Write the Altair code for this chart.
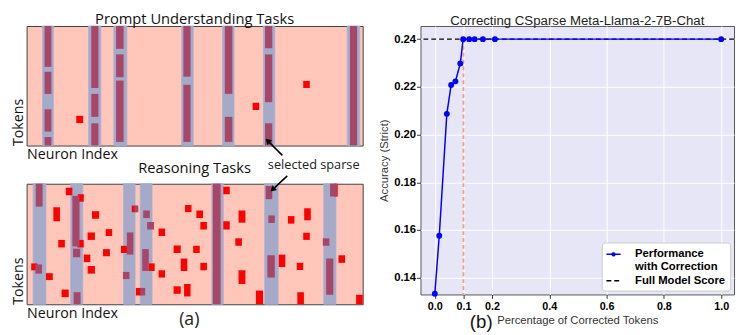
import math
import altair as alt
import pandas as pd

LFONT = "Open Sans"
RFONT = "Liberation Sans"

SALMON = "#FFC6B9"
GRAY = "#A4AAC8"
DARK = "#A6476A"
RED = "#FF0000"

# ---------------- (a) illustration data (neuron index x token index) ----------------
N_NEURONS = 343
TOP_TOKENS = 122
BOT_TOKENS = 123

TOP_COLS = [(16.3, 27.3), (63.3, 75.7), (89, 102.3), (158.3, 170), (200, 211.7), (241.7, 253.3), (327.3, 340)]
TOP_DARK = [
    (18.3, 25.3, 0, 41.7), (18.3, 25.3, 46.7, 69.3), (18.3, 25.3, 85, 107.7), (18.3, 25.3, 113.3, 122),
    (66, 73.3, 0, 63.3), (66, 73.3, 69.3, 92.7), (66, 73.3, 99.3, 122),
    (91.3, 99, 0, 23.3), (91.3, 99, 29, 52.3), (91.3, 99, 55.7, 118.3),
    (160, 167.3, 0, 51.7), (160, 167.3, 60, 118.3),
    (202.3, 210, 0, 69.3), (202.3, 210, 92.7, 118.3),
    (243.3, 250.7, 0, 22.7), (243.3, 250.7, 29, 77.7), (243.3, 250.7, 99.3, 122),
    (330, 337.3, 0, 122),
]
TOP_RED = [(50.7, 57.7, 91.7, 99), (230.7, 237.3, 78.3, 85.7), (282.3, 289, 56, 63.3)]

BOT_COLS = [(6.7, 19.7), (45, 57.3), (99, 110.7), (116, 128), (189, 200.7), (243, 256.7), (303.3, 315.7)]
BOT_DARK = [
    (9.3, 16.3, 0, 23.3), (9, 15.7, 82.3, 91.7),
    (46.7, 54, 12.3, 64), (47.3, 54.7, 66.3, 75), (48, 55, 110.7, 123),
    (102.3, 109, 49.7, 72.3), (98.3, 105, 90, 97.3), (110, 114, 22.3, 29),
    (119, 125.7, 27.3, 35), (123, 130, 39, 46.7), (118, 124.7, 66.7, 89), (116, 121, 106.3, 114),
    (190, 198, 0, 123),
    (244, 250.7, 2.3, 15.7), (246.7, 253.3, 32.3, 40), (245.7, 253.3, 73, 95.7),
    (309.7, 316.7, 0, 13), (302.3, 309, 55.7, 63.3), (305.7, 313, 76.3, 113.3),
]
BOT_RED = [
    (40, 46.7, 4, 11.7), (52.3, 58.3, 10.7, 18.3), (27.3, 34, 24, 38.3), (66.7, 74, 28, 35.7),
    (32.3, 39, 57.3, 65), (51.7, 58.3, 57.3, 65), (62.3, 69.7, 49.7, 57.3), (80.7, 87.3, 46.3, 53.3),
    (58.3, 65, 72.3, 80), (78, 85, 66.7, 74), (62.3, 69.7, 84, 91.7), (19.7, 26.7, 91.3, 98.3),
    (35.7, 43, 108, 115.7), (4.7, 11, 81.3, 88.3), (96.3, 103, 63.3, 70.7), (107.3, 113, 22.3, 29),
    (134.7, 141.3, 45.7, 53.3), (124.7, 130.7, 81.3, 89), (134.7, 141.3, 88.3, 95.7), (111.5, 117, 106.3, 114),
    (150, 157.3, 63, 70.7), (161.7, 168.3, 21.7, 29), (173.3, 180, 27.3, 35), (177.3, 184, 39, 46.7),
    (170, 176.7, 63.3, 70.7), (157.3, 164, 76.3, 89), (177.3, 184, 80.7, 88.3), (150, 157.3, 104.7, 112.3),
    (160.7, 167.3, 102.3, 115), (200.7, 207.3, 3, 10.7), (200.7, 207.3, 38.3, 46.7), (216.3, 223.3, 27.3, 39.7),
    (213, 219.7, 55.7, 63.3), (216.3, 223.3, 88.3, 102.3), (234, 241.3, 109, 123), (257.3, 264, 72.3, 85),
    (266.7, 273.3, 33, 40.7), (275.7, 282.3, 80.7, 88), (283.3, 290, 25, 37.3), (282.3, 289, 50, 57.3),
    (276.3, 283, 110.7, 123), (318.3, 325, 73, 80.7), (336.3, 343, 113.3, 123), (314, 317.5, 0, 13),
]

# annotations: (neuron, token, text, font size)
TOP_TEXT = [(293, 142, "selected sparse", 13)]
BOT_TEXT = [(166, 139.5, "(a)", 18)]
# arrows: tail (x, y) -> head (x, y)
TOP_ARROWS = [(261, 132, 246, 117)]
BOT_ARROWS = [(266, -8, 251, 6)]

# ---------------- (b) line chart data ----------------
PCT = [0.0, 0.0155, 0.042, 0.057, 0.072, 0.089, 0.099, 0.120, 0.139, 0.168, 0.210, 1.0]
ACC = [0.1333, 0.1576, 0.2087, 0.2208, 0.2223, 0.2298, 0.2400, 0.2400, 0.2400, 0.2400, 0.2400, 0.2400]
FULL_SCORE = 0.24
CUTOFF = 0.1
SERIES = ["Performance with Correction", "Full Model Score"]
X_TICKS = [0.0, 0.1, 0.2, 0.4, 0.6, 0.8, 1.0]
Y_TICKS = [0.14, 0.16, 0.18, 0.20, 0.22, 0.24]
X_DOM = [-0.05, 1.045]
Y_DOM = [0.133, 0.2455]


def rect_df(rows):
    return pd.DataFrame(rows, columns=["x0", "x1", "y0", "y1"])


def panel(cols, darks, reds, H, title, texts, arrows):
    X = alt.X("x0:Q", scale=alt.Scale(domain=[0, N_NEURONS], nice=False, zero=False),
              axis=alt.Axis(title="Neuron Index", labels=False, ticks=False, domain=False, grid=False,
                            titleAnchor="start", titleFont=LFONT, titleFontSize=14.5,
                            titleFontWeight="normal", titleColor="#111", titlePadding=2))
    Y = alt.Y("y0:Q", scale=alt.Scale(domain=[0, H], reverse=True, nice=False, zero=False),
              axis=alt.Axis(title="Tokens", labels=False, ticks=False, domain=False, grid=False,
                            titleAnchor="end", titleAlign="left", titleFont=LFONT, titleFontSize=14.5,
                            titleFontWeight="normal", titleColor="#111", titlePadding=1, minExtent=0))
    col_df = rect_df([(a, b, 0, H) for a, b in cols])
    layers = [
        alt.Chart(col_df).mark_rect(fill=GRAY, stroke="#9DB4D6", strokeWidth=0.8).encode(x=X, x2="x1", y=Y, y2="y1"),
        alt.Chart(rect_df(reds)).mark_rect(fill=RED).encode(x=X, x2="x1", y=Y, y2="y1"),
        alt.Chart(rect_df(darks)).mark_rect(fill=DARK).encode(x=X, x2="x1", y=Y, y2="y1"),
    ]
    if arrows:
        adf = pd.DataFrame(arrows, columns=["x0", "y0", "x1", "y1"])
        heads = []
        for tx, ty, hx, hy in arrows:
            ang = math.degrees(math.atan2(hx - tx, -(hy - ty))) % 360
            heads.append((hx, hy, ang))
        hdf = pd.DataFrame(heads, columns=["x0", "y0", "ang"])
        layers.append(alt.Chart(adf).mark_rule(color="black", strokeWidth=1.6).encode(x=X, y=Y, x2="x1", y2="y1"))
        layers.append(alt.Chart(hdf).mark_point(shape="triangle-up", filled=True, color="black", size=45, opacity=1)
                      .encode(x=X, y=Y, angle=alt.Angle("ang:Q", scale=None)))
    if texts:
        tdf = pd.DataFrame(texts, columns=["x0", "y0", "label", "fs"])
        layers.append(alt.Chart(tdf).mark_text(font=LFONT, align="center", baseline="middle", color="#222")
                      .encode(x=X, y=Y, text="label:N", size=alt.Size("fs:Q", scale=None)))
    return alt.layer(*layers).properties(
        width=N_NEURONS, height=H,
        title=alt.TitleParams(title, font=LFONT, fontSize=15, fontWeight="normal", color="#111", offset=-1, anchor="middle"),
        view=alt.ViewBackground(fill=SALMON, stroke="#404040", strokeWidth=1),
    )


top = panel(TOP_COLS, TOP_DARK, TOP_RED, TOP_TOKENS, "Prompt Understanding Tasks", TOP_TEXT, TOP_ARROWS)
bot = panel(BOT_COLS, BOT_DARK, BOT_RED, BOT_TOKENS, "Reasoning Tasks", BOT_TEXT, BOT_ARROWS)

# ---------------- (b) ----------------
RX = alt.X("x:Q", scale=alt.Scale(domain=X_DOM, nice=False, zero=False),
           axis=alt.Axis(values=X_TICKS, format=".1f", title="Percentage of Corrected Tokens",
                         labelFont=RFONT, labelFontSize=11, labelFontWeight="bold", labelColor="black",
                         labelPadding=2, tickSize=4, tickColor="#333", domain=False,
                         grid=True, gridColor="white", gridWidth=1,
                         titleFont=RFONT, titleFontSize=11.5, titleFontWeight="normal", titleColor="#333",
                         titlePadding=4))
RY = alt.Y("y:Q", scale=alt.Scale(domain=Y_DOM, nice=False, zero=False),
           axis=alt.Axis(values=Y_TICKS, format=".2f", title="Accuracy (Strict)",
                         labelFont=RFONT, labelFontSize=11.5, labelFontWeight="bold", labelColor="black",
                         labelPadding=1, tickSize=4, tickColor="#333", domain=False,
                         grid=True, gridColor="white", gridWidth=1,
                         titleFont=RFONT, titleFontSize=11.5, titleFontWeight="normal", titleColor="#333",
                         titlePadding=4))

LEG = alt.Legend(
    title=None, orient="bottom-right", offset=4, fillColor="white", strokeColor="#cccccc",
    cornerRadius=3, padding=4, labelFont=RFONT, labelFontSize=11.5, labelFontWeight="bold",
    labelColor="black", symbolSize=210, symbolStrokeWidth=1.5, labelOffset=14, rowPadding=0,
    symbolType={"expr": "datum.value == 'Full Model Score' ? 'stroke' : "
                        "'M-1,0H1M-0.2,0A0.2,0.2 0 1,0 0.2,0A0.2,0.2 0 1,0 -0.2,0"
                        "M-0.07,0A0.07,0.07 0 1,0 0.07,0A0.07,0.07 0 1,0 -0.07,0'"},
    labelExpr="datum.label == 'Performance with Correction' ? ['Performance', 'with Correction'] : datum.label",
)
COLOR = alt.Color("series:N", scale=alt.Scale(domain=SERIES, range=["#0000FF", "#000000"]), legend=LEG)
DASH = alt.StrokeDash("series:N", scale=alt.Scale(domain=SERIES, range=[[1, 0], [5, 3]]), legend=LEG)

perf = pd.DataFrame({"x": PCT, "y": ACC, "series": SERIES[0]})
full = pd.DataFrame({"y": [FULL_SCORE], "series": [SERIES[1]]})
cut = pd.DataFrame({"x": [CUTOFF], "y": [FULL_SCORE], "y2": [Y_DOM[0]]})
blabel = pd.DataFrame({"x": [0.162], "y": [0.1215], "t": ["(b)"]})

vline = alt.Chart(cut).mark_rule(color="#F39B83", strokeDash=[4, 3], strokeWidth=1.8).encode(x=RX, y=RY, y2="y2")
hline = alt.Chart(full).mark_rule(strokeWidth=1.3).encode(y=RY, color=COLOR, strokeDash=DASH)
line = alt.Chart(perf).mark_line(strokeWidth=1.5).encode(x=RX, y=RY, color=COLOR, strokeDash=DASH)
pts = alt.Chart(perf).mark_circle(size=36, color="#0000FF", opacity=1).encode(x=RX, y=RY)
btxt = alt.Chart(blabel).mark_text(font=RFONT, fontSize=19, align="center", baseline="middle", color="#111").encode(
    x=RX, y=RY, text="t:N")

right = alt.layer(vline, hline, line, pts, btxt).properties(
    width=320, height=274,
    title=alt.TitleParams("Correcting CSparse Meta-Llama-2-7B-Chat", font=RFONT, fontSize=13.5,
                          fontWeight="normal", color="#222", offset=-1),
    view=alt.ViewBackground(fill="#E6E6F6", stroke="#555555", strokeWidth=1),
)

left = alt.vconcat(top, bot, spacing=39).properties(bounds="flush")
chart = alt.hconcat(left, right, spacing=15).properties(
    padding={"left": 2, "top": 0, "right": 0, "bottom": 0}
).resolve_legend(color="independent", strokeDash="independent")

chart.save("out.html", embed_options={"renderer": "svg", "actions": False})
